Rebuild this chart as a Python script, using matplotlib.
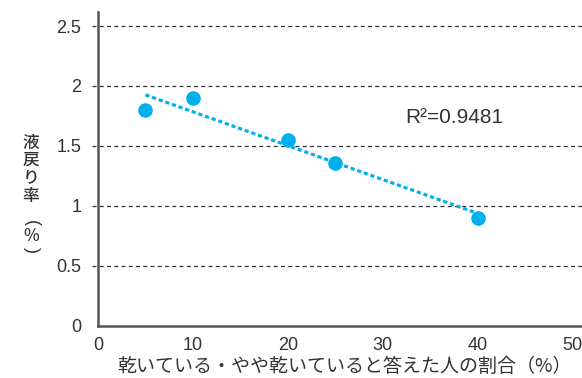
import matplotlib
matplotlib.use("Agg")
import matplotlib.pyplot as plt
import numpy as np

# Share of respondents answering "dry / somewhat dry" (%) vs. liquid return rate (%)
dry_share = [5, 10, 20, 25, 40]
return_rate = [1.80, 1.90, 1.55, 1.36, 0.90]
r2_label = "R²=0.9481"
x_ticks = [0, 10, 20, 30, 40, 50]
y_ticks = [0, 0.5, 1, 1.5, 2, 2.5]
y_tick_labels = ["0", "0.5", "1", "1.5", "2", "2.5"]
x_label = "乾いている・やや乾いていると答えた人の割合（%）"
y_label_chars = ["液", "戻", "り", "率", "(", "%", ")"]

CYAN = "#00B0EC"
INK = "#333333"
JP = ["Noto Sans CJK JP", "DejaVu Sans"]
NUM = ["Liberation Sans", "DejaVu Sans"]

W, H = 582, 378
fig = plt.figure(figsize=(W / 100, H / 100), dpi=100)
ax = fig.add_axes([98 / W, 1 - 325.7 / H, (582 - 98) / W, (325.7 - 12) / H])

ax.set_xlim(0, 51)
ax.set_ylim(0, 2.617)

# dashed horizontal grid, extended a little past the left spine
for yv in y_ticks[1:]:
    ax.axhline(yv, xmin=-6 / 484, xmax=1, color=INK, lw=0.9,
               ls=(0, (3.2, 2.6)), clip_on=False, zorder=1)

# linear trend line
coef = np.polyfit(dry_share, return_rate, 1)
xt = np.array([min(dry_share), max(dry_share)])
ax.plot(xt, np.polyval(coef, xt), color=CYAN, lw=2.3,
        ls=(0, (1.3, 0.9)), zorder=2, solid_capstyle="butt")

ax.plot(dry_share, return_rate, "o", color=CYAN, ms=10.5, mec="none", zorder=3)

ax.text(32.4, 1.74, r2_label, fontsize=15, color=INK, family=NUM,
        va="center", ha="left")

for s in ["top", "right"]:
    ax.spines[s].set_visible(False)
for s in ["left", "bottom"]:
    ax.spines[s].set_color("#555555")
    ax.spines[s].set_linewidth(1.8)

ax.set_xticks(x_ticks)
ax.set_xticklabels([str(v) for v in x_ticks], family=NUM, fontsize=13, color=INK)
ax.set_yticks(y_ticks)
ax.set_yticklabels(y_tick_labels, family=NUM, fontsize=13, color=INK)
ax.tick_params(axis="both", length=0)
ax.tick_params(axis="y", pad=12)
ax.tick_params(axis="x", pad=8)

# x-axis title
fig.text(344 / W, 1 - 366 / H, x_label, family=JP, fontsize=13.7, color=INK,
         ha="center", va="center")

# vertical y-axis title, one character per line; brackets turned for vertical writing
y_centers = [142.5, 160, 177.5, 196, 223, 236, 250]
for ch, yc in zip(y_label_chars, y_centers):
    if ch in "()":
        fig.text(31 / W, 1 - yc / H, ch, family=NUM, fontsize=13, color=INK,
                 ha="center", va="center", rotation=-90)
    else:
        fig.text(31 / W, 1 - yc / H, ch, family=JP, fontsize=12, color=INK,
                 ha="center", va="center", weight="medium")

fig.savefig("out.png", dpi=100, facecolor="white")
